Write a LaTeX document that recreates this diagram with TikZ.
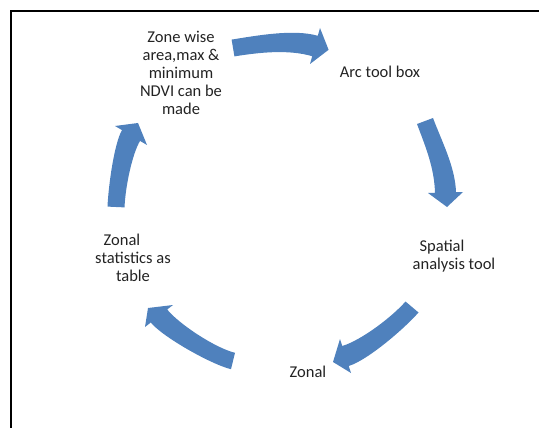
\documentclass[tikz,border=0pt]{standalone}
\usepackage{fontspec}
\setmainfont{Carlito}
\definecolor{arrowblue}{RGB}{79,129,189}
\definecolor{txt}{RGB}{35,35,35}
\begin{document}
\begin{tikzpicture}[x=1pt,y=-1pt,
  lbl/.style={align=center,text=txt,font=\fontsize{16.5}{18}\selectfont,inner sep=0pt},
  blockarrow/.style={fill=arrowblue,draw=none}]
\useasboundingbox (0,0) rectangle (539,428);
\draw[line width=2.5pt] (11,428) -- (11,11) -- (539,11);

\node[lbl] (zone) at (181,73) {Zone wise\\area,max \&\\minimum\\NDVI can be\\made};
\node[lbl] (arc) at (380,72) {Arc tool box};
\node[lbl] (spatial) at (454,256) {Spatial\hspace*{24pt}\\analysis tool};
\node[lbl] (zonal) at (308,372) {Zonal};
\node[lbl] (stats) at (133,258) {Zonal\hspace*{22pt}\\statistics as\\table};

% arrow 1 (top): Zone wise ... -> Arc tool box
\coordinate (a1tailA) at (234.4,56.4);
\coordinate (a1tailB) at (231.6,39.6);
\coordinate (a1tip) at (328.6,49.8);
\fill[blockarrow] (a1tailA) .. controls (259.4,52.4) and (288.2,49.2) .. (312.2,56.2)
  -- (310,64) -- (a1tip) -- (320,28) -- (317.8,35.8)
  .. controls (293.8,28.8) and (256.6,35.6) .. (a1tailB) -- cycle;

% arrow 2 (right): Arc tool box -> Spatial analysis tool
\coordinate (a2tailA) at (417.0,124.0);
\coordinate (a2tailB) at (433.0,118.0);
\coordinate (a2tip) at (447,207);
\fill[blockarrow] (a2tailA) .. controls (425.8,147.4) and (434.3,167.8) .. (435,192.8)
  -- (428,193) -- (a2tip) -- (463,192) -- (456,192.2)
  .. controls (455.3,167.2) and (441.8,141.4) .. (a2tailB) -- cycle;

% arrow 3 (lower right): Spatial analysis tool -> Zonal
\coordinate (a3tailA) at (405.5,301.5);
\coordinate (a3tailB) at (418.5,312.5);
\coordinate (a3tip) at (333,362);
\fill[blockarrow] (a3tailA) .. controls (392.5,316.5) and (361.8,340) .. (342.3,346)
  -- (340,339) -- (a3tip) -- (351,373) -- (348.7,366)
  .. controls (368.2,360) and (405.5,327.5) .. (a3tailB) -- cycle;

% arrow 4 (lower left): Zonal -> Zonal statistics as table
\coordinate (a4tailA) at (235,352.8);
\coordinate (a4tailB) at (231,369.2);
\coordinate (a4tip) at (148,308);
\fill[blockarrow] (a4tailA) .. controls (214.6,347.8) and (178.4,323.5) .. (167.2,309.5)
  -- (173,305) -- (a4tip) -- (145,327) -- (150.8,322.5)
  .. controls (162,336.5) and (210.6,364.2) .. (a4tailB) -- cycle;

% arrow 5 (left): Zonal statistics as table -> Zone wise ...
\coordinate (a5tailA) at (124.5,207.4);
\coordinate (a5tailB) at (107.5,206.6);
\coordinate (a5tip) at (138,123);
\fill[blockarrow] (a5tailA) .. controls (125.5,185.4) and (132.4,153.8) .. (140,140.9)
  -- (147,145) -- (a5tip) -- (115,126) -- (122,130.1)
  .. controls (114.4,143.0) and (108.5,184.6) .. (a5tailB) -- cycle;
\end{tikzpicture}
\end{document}
